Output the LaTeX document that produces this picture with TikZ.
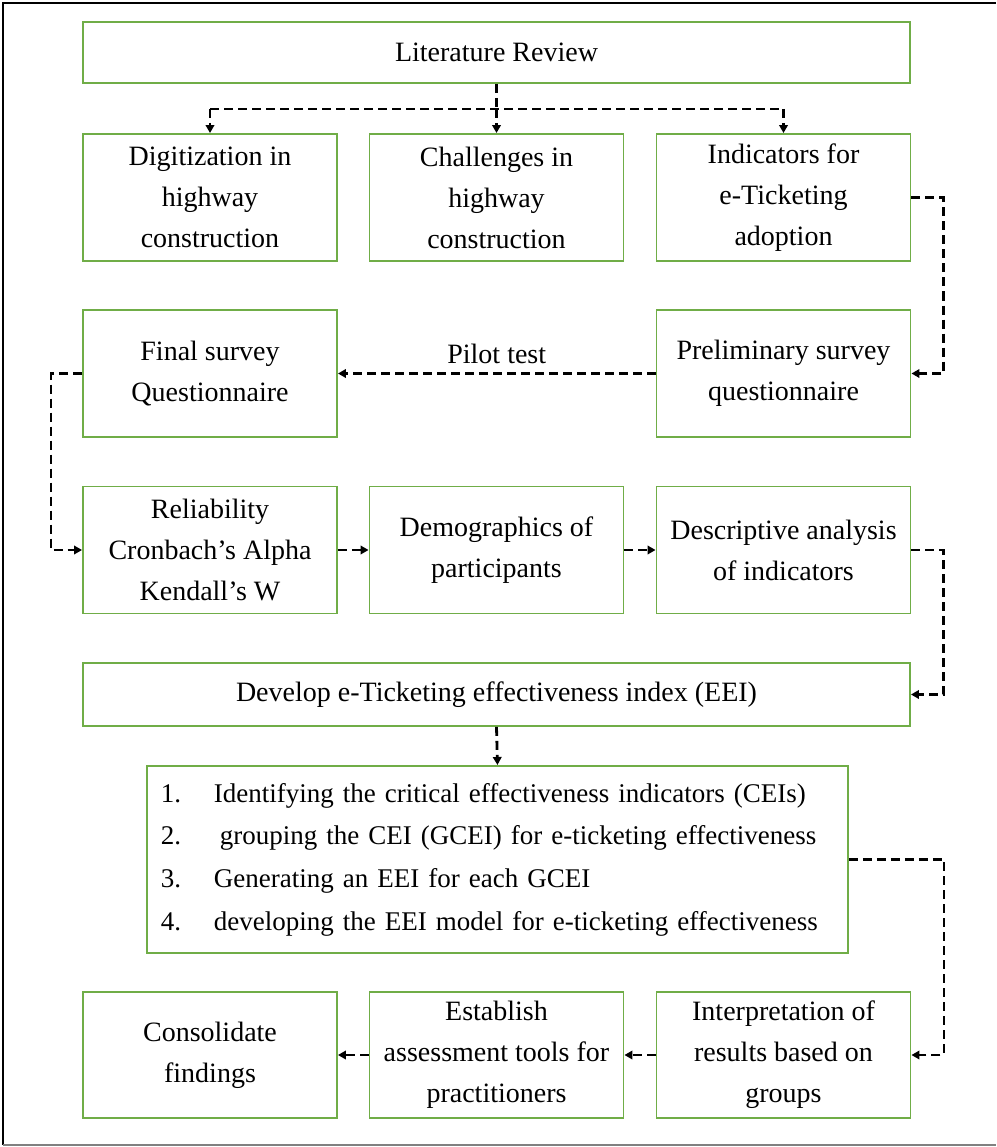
\documentclass[tikz,border=0pt]{standalone}
\usepackage{fontspec}
\setmainfont{Liberation Serif}
\usetikzlibrary{arrows.meta}
\definecolor{boxgreen}{RGB}{112,173,71}
\begin{document}
\begin{tikzpicture}[x=1pt,y=-1pt,
  box/.style={draw=boxgreen, line width=1.9pt, inner sep=0pt, align=center,
              font=\fontsize{28}{41}\selectfont},
  wide/.style={box, minimum width=827pt, minimum height=61pt},
  cell/.style={box, minimum width=254pt, minimum height=127pt},
  dline/.style={line width=2.8pt, dash pattern=on 9pt off 5pt},
  flow/.style={dline, -{Triangle[length=8pt,width=8.5pt]}}
]
\useasboundingbox (0,0) rectangle (996,1147);

% outer frame
\draw[line width=2.5pt] (3,1145) -- (3,3) -- (996,3);
\draw[line width=2pt, gray] (3,1145) -- (996,1145);

% boxes
\node[wide] (lit) at (496.5,52.5) {Literature Review};

\node[cell] (dig) at (210,197.5)   {Digitization in\\highway\\construction};
\node[cell] (cha) at (496.5,197.5) {Challenges in\\highway\\construction};
\node[cell] (ind) at (783.5,197.5) {Indicators for\\e-Ticketing\\adoption};

\node[cell] (fin) at (210,373.5)   {Final survey\\Questionnaire};
\node[cell] (pre) at (783.5,373.5) {Preliminary survey\\questionnaire};

\node[cell] (rel) at (210,550)     {Reliability\\Cronbach’s Alpha\\Kendall’s W};
\node[cell] (dem) at (496.5,550)   {Demographics of\\participants};
\node[cell] (des) at (783.5,550)   {Descriptive analysis\\of indicators};

\node[wide, minimum height=63pt] (dev) at (496.5,694.5)
  {Develop e-Ticketing effectiveness index (EEI)};

\node[box, anchor=north west, text width=673pt, inner xsep=14pt,
      minimum height=187pt, align=left,
      font=\fontsize{27}{42.7}\selectfont] (lst) at (146,765)
  {\makebox[53pt][l]{1.}Identifying the critical effectiveness indicators (CEIs)\\
   \makebox[53pt][l]{2.}\hspace{6pt}grouping the CEI (GCEI) for e-ticketing effectiveness\\
   \makebox[53pt][l]{3.}Generating an EEI for each GCEI\\
   \makebox[53pt][l]{4.}developing the EEI model for e-ticketing effectiveness};

\node[cell, minimum height=126pt] (con) at (210,1055)   {Consolidate\\findings};
\node[cell, minimum height=126pt] (est) at (496.5,1055) {Establish\\assessment tools for\\practitioners};
\node[cell, minimum height=126pt] (int) at (783.5,1055) {Interpretation of\\results based on\\groups};

% connectors
\draw[dline] (lit.south) -- ++(0,25) coordinate (split);
\draw[dline] (dig.north |- split) -- (ind.north |- split);
\draw[flow] (dig.north |- split) -- (dig.north);
\draw[flow] (split) -- (cha.north);
\draw[flow] (ind.north |- split) -- (ind.north);

\draw[flow] (ind.east) -- ++(32,0) |- (pre.east);
\draw[flow] (pre.west) -- node[above=5pt, font=\fontsize{28}{41}\selectfont] (pilot) {Pilot test} (fin.east);
\draw[flow] (fin.west) -- ++(-31,0) |- (rel.west);

\draw[flow] (rel) -- (dem);
\draw[flow] (dem) -- (des);
\draw[flow] (des.east) -- ++(32,0) |- (dev.east);
\draw[flow] (dev.south) -- (lst.north);
\draw[flow] (lst.east) -- ++(95,0) |- (int.east);
\draw[flow] (int) -- (est);
\draw[flow] (est) -- (con);
\end{tikzpicture}
\end{document}
